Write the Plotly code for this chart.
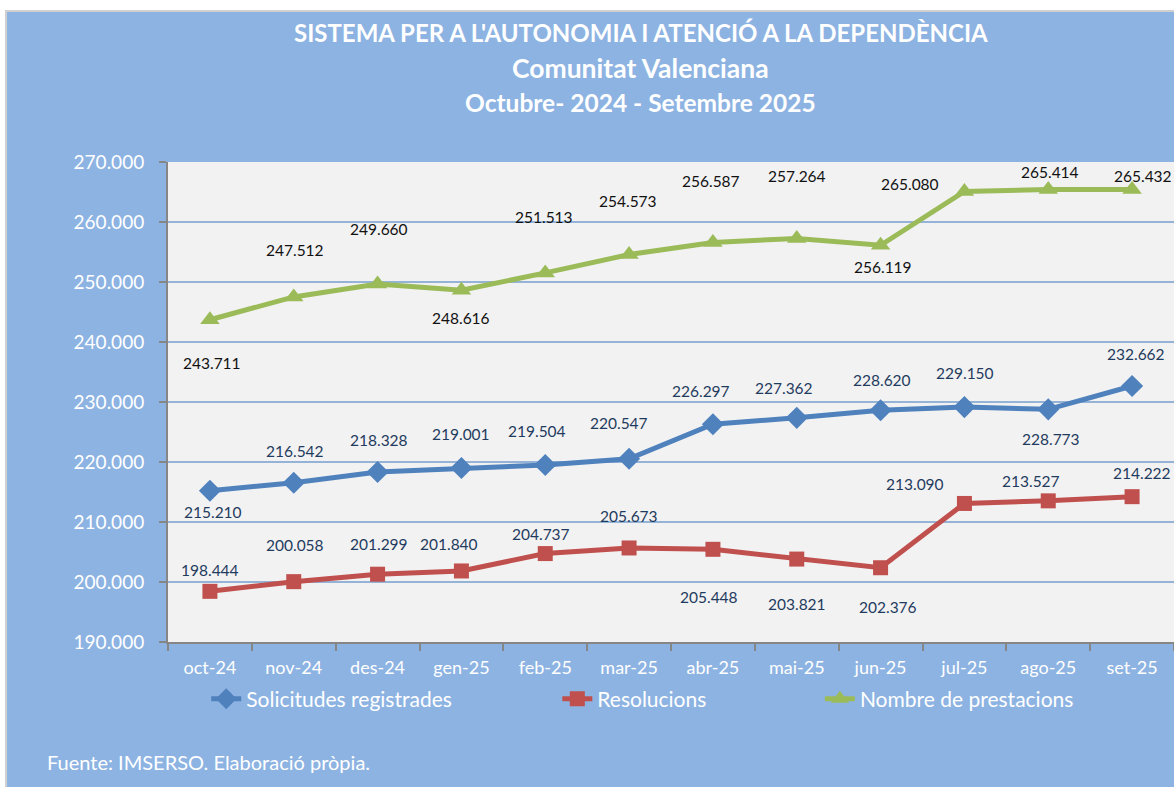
import plotly.graph_objects as go

months = ["oct-24", "nov-24", "des-24", "gen-25", "feb-25", "mar-25",
          "abr-25", "mai-25", "jun-25", "jul-25", "ago-25", "set-25"]
solicitudes = [215210, 216542, 218328, 219001, 219504, 220547,
               226297, 227362, 228620, 229150, 228773, 232662]
resolucions = [198444, 200058, 201299, 201840, 204737, 205673,
               205448, 203821, 202376, 213090, 213527, 214222]
prestacions = [243711, 247512, 249660, 248616, 251513, 254573,
               256587, 257264, 256119, 265080, 265414, 265432]

series_names = ["Solicitudes registrades", "Resolucions", "Nombre de prestacions"]

# label offsets in pixels (dx right, dy down) -- style only
sol_off = [(3, 21), (1, -32), (1, -32), (0, -34), (-8, -34), (-10, -36),
           (-12, -33), (-13, -30), (1, -30), (1, -34), (3, 30), (4, -32)]
res_off = [(0, -21), (1, -37), (1, -30), (-12, -27), (-4, -20), (0, -32),
           (-4, 48), (0, 45), (7, 39), (-49, -19), (-17, -20), (10, -24)]
pre_off = [(2, 43), (1, -47), (1, -55), (0, 28), (-1, -56), (-1, -54),
           (-2, -61), (0, -62), (2, 22), (-54, -8), (2, -18), (11, -13)]

FONT = "Lato"
BLUE, RED, GREEN = "#4F81BD", "#C0504D", "#9BBB59"
BG = "#8DB3E2"

fig = go.Figure()
styles = [
    (solicitudes, BLUE, "diamond", 17, "legend"),
    (resolucions, RED, "square", 15, "legend2"),
    (prestacions, GREEN, "triangle-up", 17, "legend3"),
]
for (vals, col, sym, sz, lg), name in zip(styles, series_names):
    fig.add_trace(go.Scatter(
        x=months, y=vals, name=name, mode="lines+markers",
        line=dict(color=col, width=5),
        marker=dict(symbol=sym, size=sz, color=col),
        legend=lg, showlegend=True, hoverinfo="skip"))

def fmt(v):
    return f"{v:,}".replace(",", ".")

annotations = []
for vals, offs, col in [(solicitudes, sol_off, "#1F3B5E"),
                        (resolucions, res_off, "#1F3B5E"),
                        (prestacions, pre_off, "#111111")]:
    for m, v, (dx, dy) in zip(months, vals, offs):
        annotations.append(dict(
            x=m, y=v, xref="x", yref="y", text=fmt(v), showarrow=False,
            xshift=dx, yshift=-dy, font=dict(family=FONT, size=15.5, color=col)))

titles = ["SISTEMA PER A L'AUTONOMIA I ATENCIÓ A LA DEPENDÈNCIA",
          "Comunitat Valenciana", "Octubre- 2024 - Setembre 2025"]
for t, yy, fs in zip(titles, [1.269, 1.196, 1.125], [24, 26.5, 24.5]):
    annotations.append(dict(
        x=0.470, y=yy, xref="paper", yref="paper", text=f"<b>{t}</b>",
        showarrow=False, xanchor="center", yanchor="middle",
        font=dict(family=FONT, size=fs, color="white")))

annotations.append(dict(
    x=-0.1223, y=-0.25, xref="paper", yref="paper",
    text="Fuente: IMSERSO. Elaboració pròpia.", showarrow=False,
    xanchor="left", yanchor="middle",
    font=dict(family=FONT, size=20, color="white")))

shapes = [
    dict(type="rect", xref="paper", yref="paper", x0=-0.2, x1=1.05,
         y0=1.3167, y1=1.36, fillcolor="white", line_width=0, layer="above"),
    dict(type="rect", xref="paper", yref="paper", x0=-0.1620, x1=1.05,
         y0=1.3125, y1=1.3167, fillcolor="#D0D0D0", line_width=0, layer="above"),
    dict(type="rect", xref="paper", yref="paper", x0=-0.2, x1=-0.1620,
         y0=-0.4, y1=1.3167, fillcolor="white", line_width=0, layer="above"),
    dict(type="rect", xref="paper", yref="paper", x0=-0.1620, x1=-0.1600,
         y0=-0.4, y1=1.3125, fillcolor="#D0D0D0", line_width=0, layer="above"),
]

leg_common = dict(orientation="h", yanchor="middle", y=-0.119, xanchor="left",
                  bgcolor="rgba(0,0,0,0)", font=dict(family=FONT, size=21, color="white"),
                  itemwidth=30)

fig.update_layout(
    width=1174, height=787,
    margin=dict(l=168, r=0, t=162, b=145, autoexpand=False),
    paper_bgcolor=BG, plot_bgcolor="#F2F2F2",
    separators=",.",
    showlegend=True,
    font=dict(family=FONT, color="white"),
    annotations=annotations, shapes=shapes,
    legend=dict(x=0.038, **leg_common),
    legend2=dict(x=0.387, **leg_common),
    legend3=dict(x=0.648, **leg_common),
    xaxis=dict(type="category", range=[-0.5, 11.5], tickson="boundaries",
               ticks="outside", ticklen=7,
               tickcolor="#868686", tickwidth=2, showline=True, linecolor="#868686",
               linewidth=2, showgrid=False, ticklabelstandoff=8,
               tickfont=dict(family=FONT, size=18, color="white")),
    yaxis=dict(range=[190000, 270000], dtick=10000, tickformat=",d",
               ticks="outside", ticklen=7, tickcolor="#868686", tickwidth=2,
               showline=True, linecolor="#868686", linewidth=2,
               gridcolor="#95B3D7", gridwidth=1.5, zeroline=False,
               ticklabelstandoff=11,
               tickfont=dict(family=FONT, size=19, color="white")),
    hovermode=False,
)

fig.write_html("out.html", config={"displayModeBar": False},
               post_script="document.body.style.margin='0';document.body.style.overflow='hidden';")
